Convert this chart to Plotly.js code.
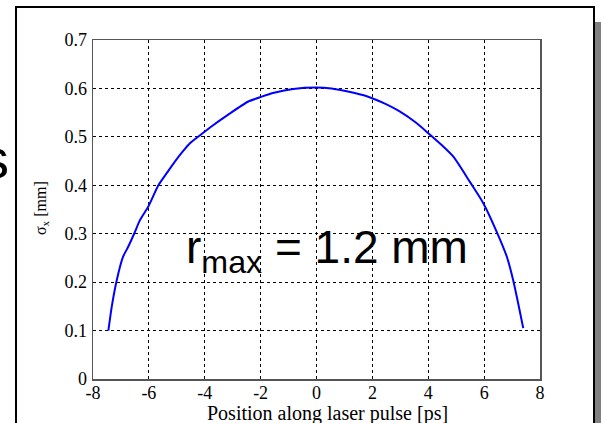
<!DOCTYPE html>
<html>
<head>
<meta charset="utf-8">
<script src="https://cdn.plot.ly/plotly-3.0.1.min.js"></script>
<style>
html,body{margin:0;padding:0;background:#fff;}
#chart{width:601px;height:423px;}
</style>
</head>
<body>
<div id="chart"></div>
<script>
// Data
var positionPs = [-7.45, -7.33, -7.15, -6.92, -6.74, -6.52, -6.32, -6.02, -5.66, -5.35, -5.07, -4.80, -4.53, -4.11, -3.75, -3.16, -2.44, -1.96, -1.52, -0.83, 0.0, 0.54, 1.08, 1.80, 2.39, 2.99, 3.59, 4.03, 4.50, 4.90, 5.49, 5.97, 6.45, 6.81, 7.04, 7.22, 7.40];
var sigmaXmm  = [0.100, 0.149, 0.204, 0.253, 0.273, 0.301, 0.328, 0.356, 0.400, 0.426, 0.449, 0.469, 0.487, 0.506, 0.522, 0.546, 0.573, 0.583, 0.591, 0.599, 0.602, 0.600, 0.594, 0.584, 0.570, 0.552, 0.528, 0.506, 0.482, 0.459, 0.407, 0.363, 0.304, 0.253, 0.204, 0.156, 0.105];
var xTicks = [-8, -6, -4, -2, 0, 2, 4, 6, 8];
var yTicks = [0, 0.1, 0.2, 0.3, 0.4, 0.5, 0.6, 0.7];
var xTitle = "Position along laser pulse [ps]";
var yTitle = "σ<sub>x</sub> [mm]";
var labelText = "r<sub>max</sub> = 1.2 mm";
var sideText = "s";

var W = 601, H = 423, L = 93, R = 61, T = 40, B = 44;
var pw = W - L - R, ph = H - T - B;
function px(x){ return (x - L) / pw; }
function py(y){ return (H - B - y) / ph; }

var serif = "Liberation Serif, Times New Roman, serif";
var sans = "Liberation Sans, Arial, sans-serif";

var trace = {
  x: positionPs, y: sigmaXmm, type: "scatter", mode: "lines",
  line: {color: "#0000ff", width: 2, shape: "spline", smoothing: 0.6}, hoverinfo: "skip"
};

var axisCommon = {
  showgrid: true, gridcolor: "#000", griddash: "3px,3px", gridwidth: 1,
  zeroline: false, showline: true, linecolor: "#555", linewidth: 1.5, mirror: true,
  ticks: "", tickfont: {family: serif, size: 18, color: "#000"}
};

var layout = {
  width: W, height: H,
  margin: {l: L, r: R, t: T, b: B, pad: 0},
  paper_bgcolor: "#fff", plot_bgcolor: "#fff",
  showlegend: false,
  xaxis: Object.assign({}, axisCommon, {range: [-8, 8], tickvals: xTicks, ticktext: xTicks.map(String), ticklabelstandoff: -3}),
  yaxis: Object.assign({}, axisCommon, {range: [0, 0.7], tickvals: yTicks, ticktext: yTicks.map(String), ticklabelstandoff: 1}),
  shapes: [
    {type: "rect", xref: "paper", yref: "paper", x0: px(595), x1: px(603), y0: py(440), y1: py(22), fillcolor: "#808080", line: {width: 0}, layer: "below"},
    {type: "rect", xref: "paper", yref: "paper", x0: px(16), x1: px(594), y0: py(440), y1: py(7), fillcolor: "rgba(0,0,0,0)", line: {color: "#000", width: 2}, layer: "above"}
  ],
  annotations: [
    {xref: "paper", yref: "paper", x: px(327), y: py(413), xanchor: "center", yanchor: "middle", showarrow: false,
     text: xTitle, font: {family: serif, size: 20, color: "#000"}},
    {xref: "paper", yref: "paper", x: px(41), y: py(208), xanchor: "center", yanchor: "middle", showarrow: false, textangle: -90,
     text: yTitle, font: {family: serif, size: 16, color: "#000"}},
    {xref: "paper", yref: "paper", x: px(184), y: py(250), xanchor: "left", yanchor: "middle", showarrow: false,
     text: labelText, font: {family: sans, size: 46, color: "#000"}},
    {xref: "paper", yref: "paper", x: px(11), y: py(158), xanchor: "right", yanchor: "middle", showarrow: false,
     text: sideText, font: {family: sans, size: 56, color: "#000"}}
  ]
};

Plotly.newPlot("chart", [trace], layout, {staticPlot: true, displayModeBar: false});
</script>
</body>
</html>
